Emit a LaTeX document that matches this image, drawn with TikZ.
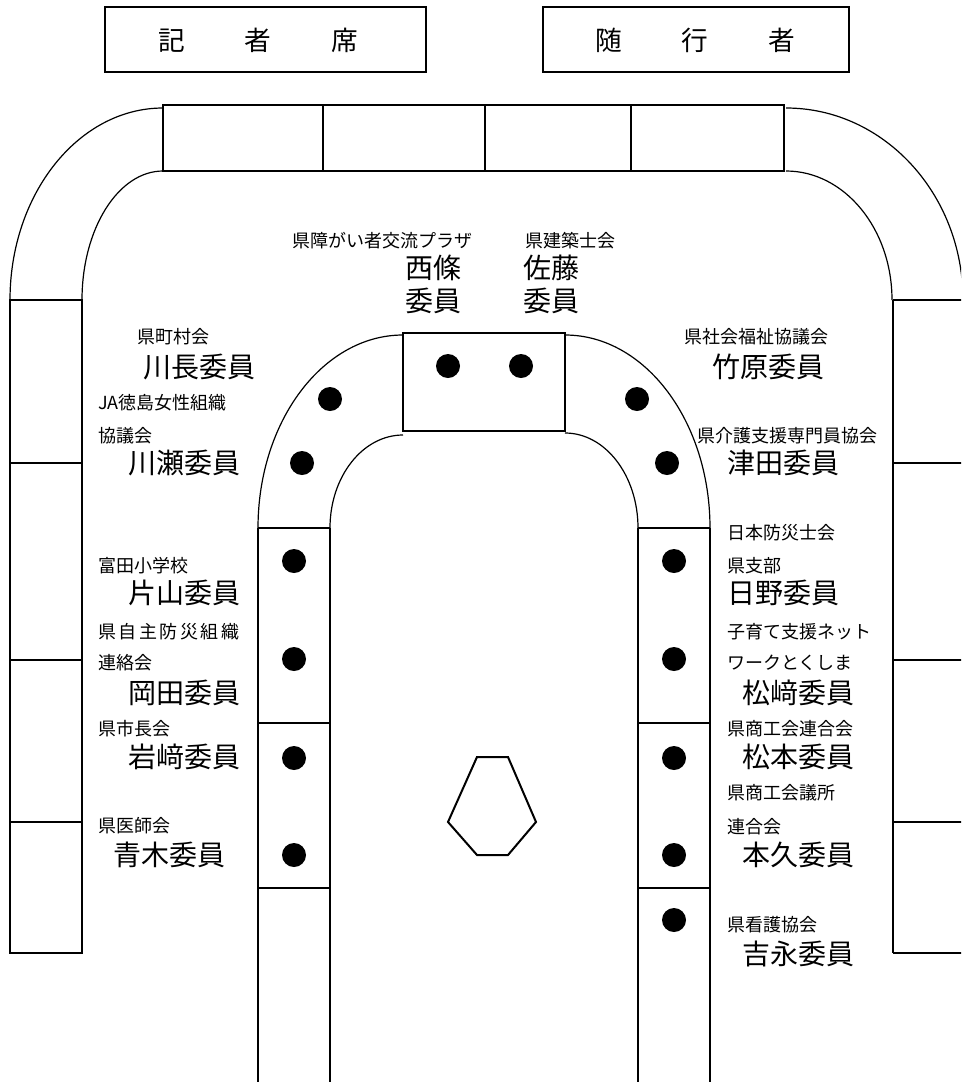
\documentclass[tikz,border=0pt]{standalone}
\usepackage{fontspec}
\setmainfont{Noto Sans CJK JP}
\begin{document}
\begin{tikzpicture}[x=0.75pt,y=-0.75pt,
  tbl/.style={line width=1.5pt},
  arcl/.style={line width=0.9pt},
  lbl/.style={font=\fontsize{13.5}{16}\selectfont, inner sep=0pt, anchor=west},
  lblsp/.style={font=\fontsize{13.5}{16}\selectfont\addfontfeature{LetterSpace=14}, inner sep=0pt, anchor=west},
  nm/.style={font=\fontsize{21}{24}\selectfont, inner sep=0pt, anchor=west},
  hdr/.style={font=\fontsize{20}{24}\selectfont, inner sep=0pt, anchor=west},
  seat/.style={fill=black}]
\useasboundingbox (0,0) rectangle (961,1082);
\clip (0,0) rectangle (961,1082);
% header boxes
\draw[tbl] (105,7) rectangle (426,72);
\node[hdr] (kisha) at (158,40) {記\hspace{45pt}者\hspace{45pt}席};
\draw[tbl] (543,7) rectangle (849,72);
\node[hdr] (zuiko) at (595,40) {随\hspace{45pt}行\hspace{45pt}者};
% top row of tables
\draw[tbl] (163,105) rectangle (784,171);
\foreach \x in {323,485,631} \draw[tbl] (\x,105) -- (\x,171);
% outer corner arcs
\draw[arcl] (163,108) arc[start angle=270, end angle=180, x radius=153, y radius=192];
\draw[arcl] (163,171) arc[start angle=270, end angle=180, x radius=81, y radius=129];
\draw[arcl] (786,108) arc[start angle=270, end angle=360, x radius=177, y radius=192];
\draw[arcl] (786,171) arc[start angle=270, end angle=360, x radius=106, y radius=129];
% left side column
\draw[tbl] (10,300) rectangle (82,953);
\foreach \y in {463,660,822} \draw[tbl] (10,\y) -- (82,\y);
% right side column
\draw[tbl] (893,300) -- (893,953);
\foreach \y in {300,463,660,822,953} \draw[tbl] (893,\y) -- (965,\y);
% inner U table
\draw[tbl] (403,333) rectangle (565,431);
\draw[arcl] (403,335) arc[start angle=270, end angle=180, x radius=145, y radius=193];
\draw[arcl] (403,435) arc[start angle=270, end angle=180, x radius=73, y radius=93];
\draw[arcl] (565,335) arc[start angle=270, end angle=360, x radius=145, y radius=193];
\draw[arcl] (565,433) arc[start angle=270, end angle=360, x radius=73, y radius=95];
\draw[tbl] (258,528) -- (258,1085);
\draw[tbl] (330,528) -- (330,1085);
\draw[tbl] (638,528) -- (638,1085);
\draw[tbl] (710,528) -- (710,1085);
\foreach \y in {528,723,888} {\draw[tbl] (258,\y) -- (330,\y); \draw[tbl] (638,\y) -- (710,\y);}
% hexagon
\draw[tbl] (448,822) -- (477,757) -- (508,757) -- (536,822) -- (508,855) -- (477,855) -- cycle;
% seats
\foreach \p in {(448,366),(521,366),(330,399),(302,463),(637,399),(667,463),
  (294,561),(294,659),(294,758),(294,855),
  (674,561),(674,659),(674,758),(674,855),(674,920)}
  \fill[seat] \p circle[radius=12];
% top labels
\node[lbl] (l1) at (292,241) {県障がい者交流プラザ};
\node[nm] (n1a) at (405,268) {西條};
\node[nm] (n1b) at (405,301) {委員};
\node[lbl] (l2) at (525,241) {県建築士会};
\node[nm] (n2a) at (523,268) {佐藤};
\node[nm] (n2b) at (523,301) {委員};
% left labels
\node[lbl] (l3) at (137,337) {県町村会};
\node[nm] (n3) at (143,367) {川長委員};
\node[lbl] (l4a) at (98,403) {JA徳島女性組織};
\node[lbl] (l4b) at (98,436) {協議会};
\node[nm] (n4) at (128,463) {川瀬委員};
\node[lbl] (l5) at (98,566) {富田小学校};
\node[nm] (n5) at (128,593) {片山委員};
\node[lblsp] (l6a) at (98,632) {県自主防災組織};
\node[lbl] (l6b) at (98,663) {連絡会};
\node[nm] (n6) at (128,693) {岡田委員};
\node[lbl] (l7) at (98,729) {県市長会};
\node[nm] (n7) at (128,757) {岩﨑委員};
\node[lbl] (l8) at (98,826) {県医師会};
\node[nm] (n8) at (113,855) {青木委員};
% right labels
\node[lbl] (r1) at (684,337) {県社会福祉協議会};
\node[nm] (m1) at (712,367) {竹原委員};
\node[lbl] (r2) at (697,436) {県介護支援専門員協会};
\node[nm] (m2) at (727,463) {津田委員};
\node[lbl] (r3a) at (727,533) {日本防災士会};
\node[lbl] (r3b) at (727,566) {県支部};
\node[nm] (m3) at (727,593) {日野委員};
\node[lbl] (r4a) at (727,632) {子育て支援ネット};
\node[lbl] (r4b) at (727,663) {ワークとくしま};
\node[nm] (m4) at (742,693) {松﨑委員};
\node[lbl] (r5) at (727,729) {県商工会連合会};
\node[nm] (m5) at (742,757) {松本委員};
\node[lbl] (r6a) at (727,793) {県商工会議所};
\node[lbl] (r6b) at (727,827) {連合会};
\node[nm] (m6) at (742,855) {本久委員};
\node[lbl] (r7) at (727,925) {県看護協会};
\node[nm] (m7) at (742,954) {吉永委員};
\end{tikzpicture}
\end{document}
